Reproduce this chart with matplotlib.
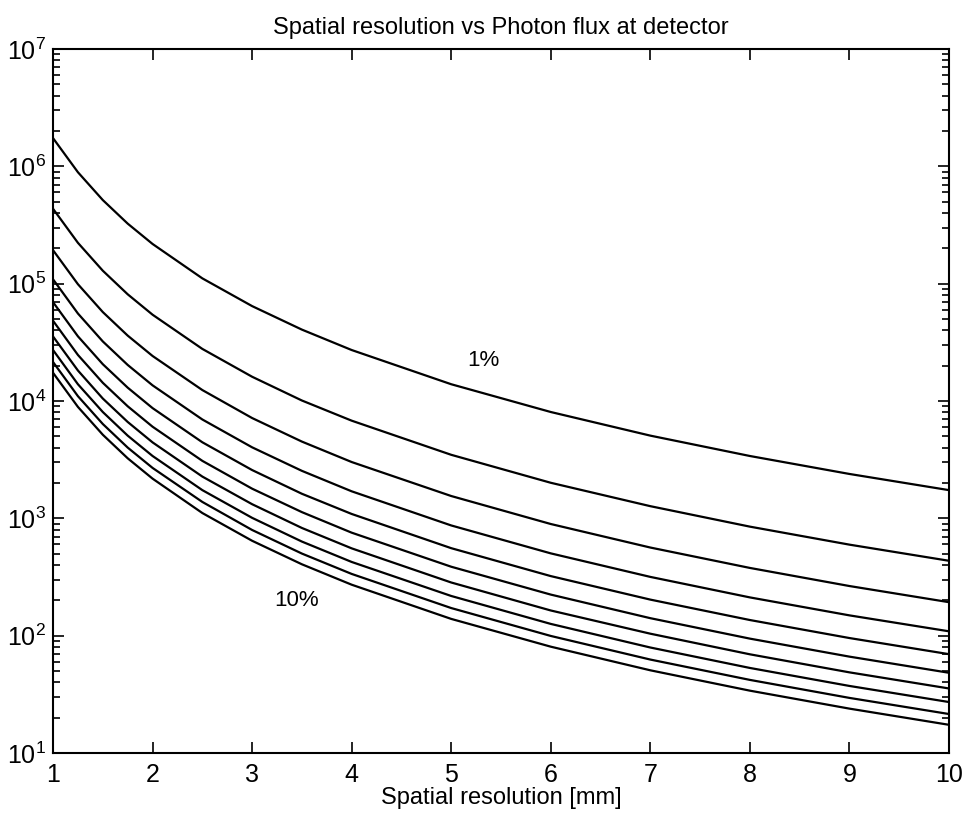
import numpy as np
import matplotlib
matplotlib.use("Agg")
import matplotlib.pyplot as plt
from matplotlib.ticker import LogLocator, FixedLocator, NullFormatter

plt.rcParams['font.family'] = ['Liberation Sans', 'DejaVu Sans']
plt.rcParams['mathtext.default'] = 'regular'

# ----------------------------- data -----------------------------
# spatial resolution [mm]
res = [1, 1.25, 1.5, 1.75, 2, 2.5, 3, 3.5, 4, 5, 6, 7, 8, 9, 10]

# photon flux at detector, one curve per contrast level (1% ... 10%)
flux_1 = [1.74e6, 8.91e5, 5.16e5, 3.25e5, 2.18e5, 1.11e5, 6.44e4, 4.06e4, 2.72e4, 1.39e4, 8060, 5070, 3400, 2390, 1740]
flux_2 = [4.35e5, 2.23e5, 1.29e5, 8.12e4, 5.44e4, 2.78e4, 1.61e4, 1.01e4, 6800, 3480, 2010, 1270, 850, 597, 435]
flux_3 = [1.93e5, 9.90e4, 5.73e4, 3.61e4, 2.42e4, 1.24e4, 7160, 4510, 3020, 1550, 895, 564, 378, 265, 193]
flux_4 = [1.09e5, 5.57e4, 3.22e4, 2.03e4, 1.36e4, 6960, 4030, 2540, 1700, 870, 503, 317, 212, 149, 109]
flux_5 = [6.96e4, 3.56e4, 2.06e4, 1.30e4, 8700, 4450, 2580, 1620, 1090, 557, 322, 203, 136, 95.5, 69.6]
flux_6 = [4.83e4, 2.47e4, 1.43e4, 9020, 6040, 3090, 1790, 1130, 755, 387, 224, 141, 94.4, 66.3, 48.3]
flux_7 = [3.55e4, 1.82e4, 1.05e4, 6630, 4440, 2270, 1320, 828, 555, 284, 164, 104, 69.4, 48.7, 35.5]
flux_8 = [2.72e4, 1.39e4, 8060, 5070, 3400, 1740, 1010, 634, 425, 218, 126, 79.3, 53.1, 37.3, 27.2]
flux_9 = [2.15e4, 1.10e4, 6370, 4010, 2690, 1380, 796, 501, 336, 172, 99.5, 62.6, 42.0, 29.5, 21.5]
flux_10 = [1.74e4, 8910, 5160, 3250, 2180, 1110, 644, 406, 272, 139, 80.6, 50.7, 34.0, 23.9, 17.4]

curves = [flux_1, flux_2, flux_3, flux_4, flux_5, flux_6, flux_7, flux_8, flux_9, flux_10]

# ----------------------------------- figure -----------------------------------------
fig = plt.figure(figsize=(9.66, 8.17), dpi=100)
ax = fig.add_axes([0.0549, 0.0783, 0.9275, 0.8617])

for f in curves:
    ax.semilogy(res, f, color='black', lw=1.6)

ax.set_xlim(1, 10)
ax.set_ylim(10, 1e7)
ax.xaxis.set_major_locator(FixedLocator(range(1, 11)))
ax.yaxis.set_major_locator(LogLocator(base=10, numticks=10))
ax.yaxis.set_minor_locator(LogLocator(base=10, subs=np.arange(2, 10), numticks=20))
ax.yaxis.set_minor_formatter(NullFormatter())

ax.tick_params(which='both', direction='in', top=True, right=True, width=1.2, labelsize=18)
ax.tick_params(which='major', length=8)
ax.tick_params(which='minor', length=5)
ax.tick_params(axis='x', pad=7)
ax.tick_params(axis='y', pad=5)
for s in ax.spines.values():
    s.set_linewidth(1.5)

ax.text(5.32, 2.2e4, '1%', fontsize=16, ha='center', va='center')
ax.text(3.45, 200, '10%', fontsize=16, ha='center', va='center')

ax.set_title('Spatial resolution vs Photon flux at detector', fontsize=17, pad=11)
ax.set_xlabel('Spatial resolution [mm]', fontsize=17, labelpad=0)

plt.savefig('out.png', dpi=100)
